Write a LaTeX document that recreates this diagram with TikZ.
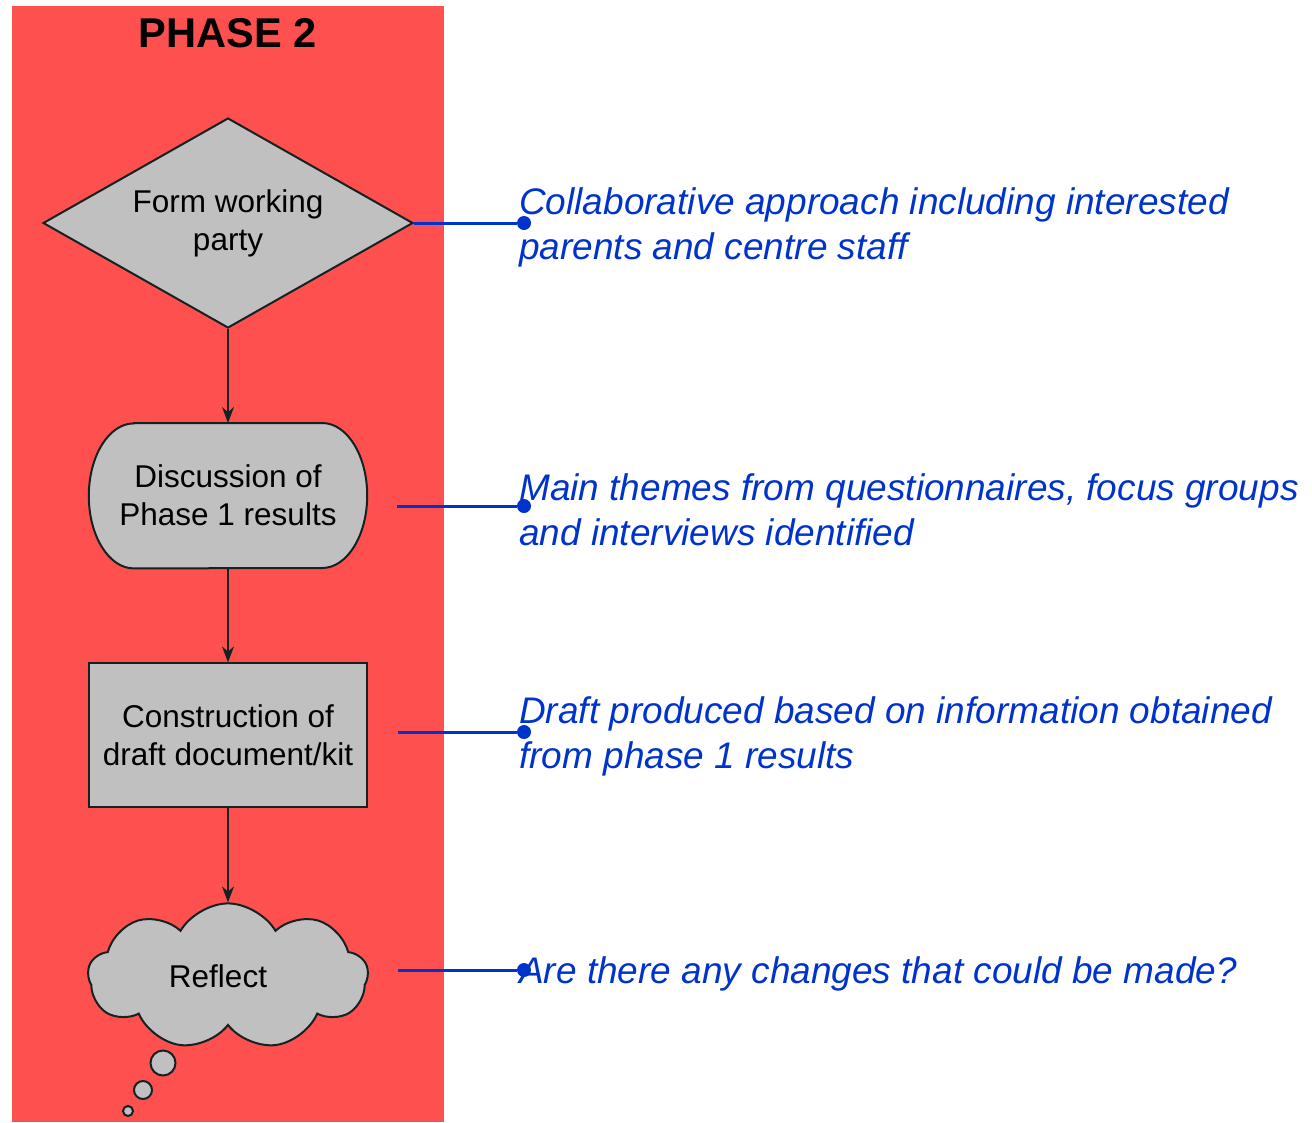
\documentclass[tikz,border=0pt]{standalone}
\usepackage{fontspec}
\setmainfont{Liberation Sans}
\usepackage{xcolor}
\usetikzlibrary{shapes,arrows.meta,positioning}
\definecolor{phasered}{HTML}{FF5050}
\definecolor{boxgray}{HTML}{C0C0C0}
\definecolor{noteblue}{HTML}{0033CC}
\definecolor{edgeblack}{HTML}{142222}

\begin{document}
\begin{tikzpicture}[x=1pt, y=-1pt, node distance=94pt,
    shell/.style={draw=edgeblack, line width=2pt, fill=boxgray},
    box/.style={shell, align=center, inner sep=0pt, font=\fontsize{31.5}{38}\selectfont},
    decision/.style={box, diamond, aspect=1.76, minimum width=370pt, minimum height=210pt},
    talk/.style={rectangle, minimum width=278pt, minimum height=145pt},
    process/.style={box, rectangle, minimum width=278pt, minimum height=144pt},
    thought/.style={box, cloud, cloud puffs=9, cloud puff arc=120, aspect=2,
        minimum width=280pt, minimum height=146pt},
    bubble/.style={shell, circle, inner sep=0pt},
    flow/.style={draw=edgeblack, line width=1.6pt, -{Stealth[length=16pt, width=12pt]}},
    link/.style={draw=noteblue, line width=3pt},
    pin/.style={circle, fill=noteblue, inner sep=0pt, minimum size=14pt},
    note/.style={anchor=west, align=left, inner sep=0pt, text=noteblue, yshift=-4pt,
        font=\fontsize{37}{45}\selectfont\itshape}]

    \useasboundingbox (0,0) rectangle (1312,1122);
    \fill[phasered] (12,6) rectangle (444,1122);
    \node[font=\fontsize{41.6}{48}\selectfont\bfseries] (title) at (228,33) {PHASE 2};

    \node[decision] (form) at (228,223) {Form working\\party};
    \node[talk, below=of form] (discuss) {};
    \draw[shell] ([xshift=45pt]discuss.north west) -- ([xshift=-45pt]discuss.north east)
        arc[start angle=90, end angle=-90, x radius=45pt, y radius=72.5pt]
        -- ([xshift=45pt]discuss.south west)
        arc[start angle=270, end angle=90, x radius=45pt, y radius=72.5pt] -- cycle;
    \node[align=center, font=\fontsize{31.5}{38}\selectfont] (discussText) at (discuss) {Discussion of\\Phase 1 results};
    \node[process, below=of discuss] (draft) {Construction of\\draft document/kit};
    \node[thought, below=of draft] (reflect) {Reflect\hspace*{20pt}};
    \node[bubble, minimum size=25pt] (bubA) at (163,1063) {};
    \node[bubble, minimum size=18pt] (bubB) at (143,1090) {};
    \node[bubble, minimum size=10pt] (bubC) at (128,1111) {};

    \draw[flow] (form) -- (discuss);
    \draw[flow] (discuss) -- (draft);
    \draw[flow] (draft) -- (reflect);

    \node[pin] (pin1) at (524,223) {};
    \node[pin] (pin2) at (524,506) {};
    \node[pin] (pin3) at (524,732) {};
    \node[pin] (pin4) at (524,970) {};

    \draw[link] (form.east) -- (pin1);
    \draw[link] (pin2 -| discuss.east) ++(30,0) -- (pin2);
    \draw[link] (pin3 -| draft.east) ++(30,0) -- (pin3);
    \draw[link] (pin4 -| draft.east) ++(30,0) -- (pin4);

    \node[note] (noteA) at ([xshift=-5pt]pin1.center) {Collaborative approach including interested\\parents and centre staff};
    \node[note] (noteB) at ([xshift=-5pt]pin2.center) {Main themes from questionnaires, focus groups\\and interviews identified};
    \node[note] (noteC) at ([xshift=-5pt]pin3.center) {Draft produced based on information obtained\\from phase 1 results};
    \node[note] (noteD) at ([xshift=-5pt]pin4.center) {Are there any changes that could be made?};
\end{tikzpicture}
\end{document}
